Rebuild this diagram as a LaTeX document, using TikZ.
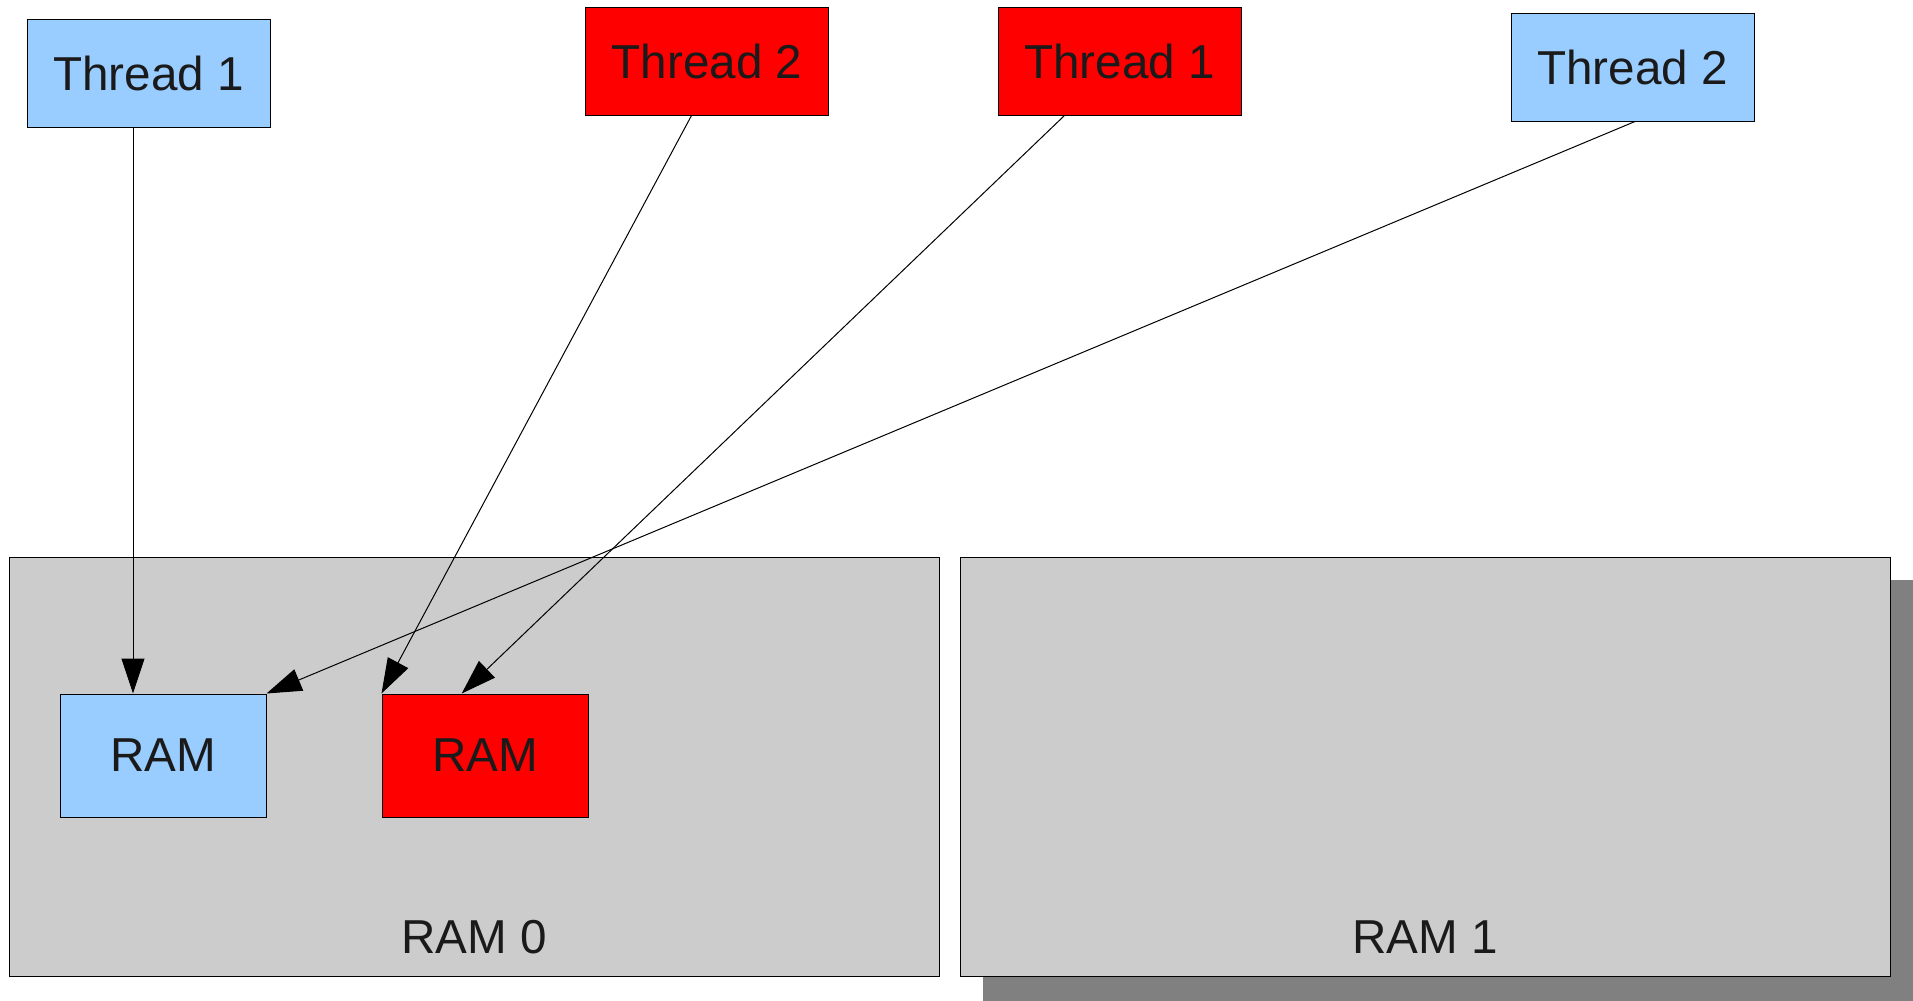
\documentclass[tikz,border=0pt]{standalone}
\usepackage{fontspec}
\setmainfont{Liberation Sans}
\usetikzlibrary{arrows.meta,calc}
\definecolor{threadblue}{HTML}{99CCFF}
\definecolor{threadred}{HTML}{FF0000}
\definecolor{ramgray}{HTML}{CCCCCC}
\definecolor{shadowgray}{HTML}{808080}
\definecolor{textdark}{HTML}{1A1A1A}
\begin{document}
\begin{tikzpicture}[>={Triangle[length=17.5pt, width=11.5pt]}, x=0.5pt, y=-0.5pt,
        font=\fontsize{23.8}{28}\selectfont, line width=0.5pt, text=textdark,
        box/.style={draw, rectangle, inner sep=0pt},
        thread/.style={box, minimum width=121.5pt, minimum height=54pt},
        ram/.style={box, minimum width=103pt, minimum height=61.5pt},
        bank/.style={box, fill=ramgray, minimum width=465pt, minimum height=209.5pt}]
            % Fix the page to the frame of the drawing
            \useasboundingbox (0,0) rectangle (1913,1001);
            % Shadow behind the second bank
            \fill[shadowgray] (983,580) rectangle (1913,1001);
            % Draw the two memory banks
            \node[bank] (ram0) at (474,766.5) {};
            \node[bank] (ram1) at (1425,766.5) {};
            \node (lab0) at (474,937) {RAM 0};
            \node (lab1) at (1425,937) {RAM 1};
            % Memory of each thread inside bank 0
            \node[ram, fill=threadblue] (rama) at (163,755.5) {RAM};
            \node[ram, fill=threadred] (ramb) at (485,755.5) {RAM};
            % The threads
            \node[thread, fill=threadblue] (t1a) at (148.5,73) {Thread 1};
            \node[thread, fill=threadred] (t2a) at (707,61) {Thread 2};
            \node[thread, fill=threadred] (t1b) at (1119.5,61) {Thread 1};
            \node[thread, fill=threadblue] (t2b) at (1632.5,67) {Thread 2};
            % Accesses from the threads to the memory
            \draw[->] ($(t1a.south)+(-15.5,0)$) -- ($(rama.north)+(-30,0)$);
            \draw[->] ($(t2a.south)+(-15.5,0)$) -- (ramb.north west);
            \draw[->] ($(t1b.south)+(-55,0)$) -- ($(ramb.north)+(-23.3,0)$);
            \draw[->] ($(t2b.south)+(2.5,0)$) -- (rama.north east);
    \end{tikzpicture}
\end{document}
